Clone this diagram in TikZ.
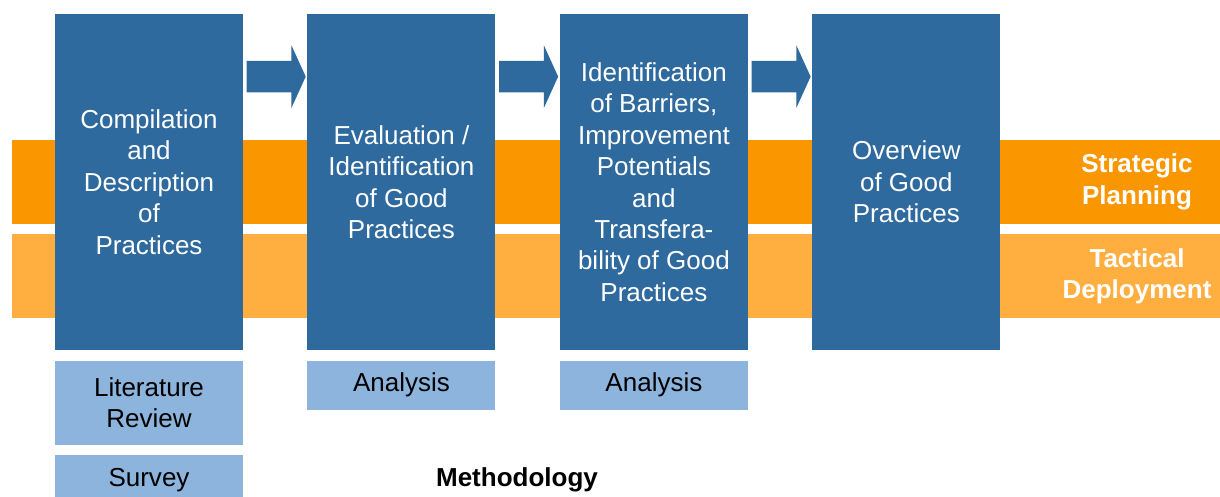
\documentclass[tikz,border=0pt]{standalone}
\usepackage{fontspec}
\setmainfont{Liberation Sans}
\usepackage{tikz}
\usetikzlibrary{positioning,calc,shapes.arrows}
\definecolor{stageblue}{HTML}{2E6A9D}
\definecolor{toolblue}{HTML}{8CB4DC}
\definecolor{stratorange}{HTML}{FA9600}
\definecolor{tactorange}{HTML}{FFAE3F}
\newcommand{\boxfont}{\fontsize{14.8}{17.9}\selectfont}

\begin{document}
\begin{tikzpicture}[
  node distance=1.275cm,
  %% Stage boxes: tall dark blue columns
  stagebox/.style={fill=stageblue,text=white,minimum width=3.76cm,minimum height=6.72cm,
                   inner sep=2pt,align=center,font=\boxfont},
  %% Tool boxes: light blue, below the stages
  toolbox/.style={fill=toolblue,text=black,minimum width=3.76cm,minimum height=0.98cm,
                  inner sep=2pt,align=center,font=\boxfont},
  %% Block arrows between stages
  stagearrow/.style={single arrow,fill=stageblue,inner sep=0pt,text height=0.62cm,
                     text depth=0pt,minimum height=1.18cm,single arrow head extend=0.31cm,
                     single arrow tip angle=131,single arrow head indent=0pt,anchor=tail},
  bandlabel/.style={text=white,align=center,font=\boxfont\bfseries}
]
\clip (0,0) rectangle (24.4,-9.94);
\useasboundingbox (0,0) rectangle (24.4,-9.94);

%% ---- BANDS ----
\fill[stratorange] (0.24,-2.80) rectangle (24.4,-4.48);
\fill[tactorange]  (0.24,-4.68) rectangle (24.4,-6.36);
\node[bandlabel] (strat) at (22.74,-3.64) {Strategic\\Planning};
\node[bandlabel] (tact)  at (22.74,-5.53) {Tactical\\Deployment};

%% ---- STAGES ----
\node[stagebox] (comp) at (2.98,-3.64) {Compilation\\and\\Description\\of\\Practices};
\node[stagebox,right=of comp] (eval) {Evaluation /\\Identification\\of Good\\Practices};
\node[stagebox,right=of eval] (barr) {Identification\\of Barriers,\\Improvement\\Potentials\\and\\Transfera-\\bility of Good\\Practices};
\node[stagebox,right=of barr] (over) {Overview\\of Good\\Practices};

%% ---- ARROWS ----
\foreach \a in {comp,eval,barr}
  \node[stagearrow] (arr-\a) at ($(\a.north east)+(0.06,-1.26)$) {};

%% ---- TOOLS ----
\node[toolbox,minimum height=1.68cm,below=0.2cm of comp] (lit) {Literature\\Review};
\node[toolbox,below=0.2cm of lit] (surv) {Survey};
\node[toolbox,below=0.2cm of eval] (ana1) {Analysis};
\node[toolbox,below=0.2cm of barr] (ana2) {Analysis};

\node[font=\boxfont\bfseries] (meth) at (10.34,-9.6) {Methodology};

\end{tikzpicture}
\end{document}
